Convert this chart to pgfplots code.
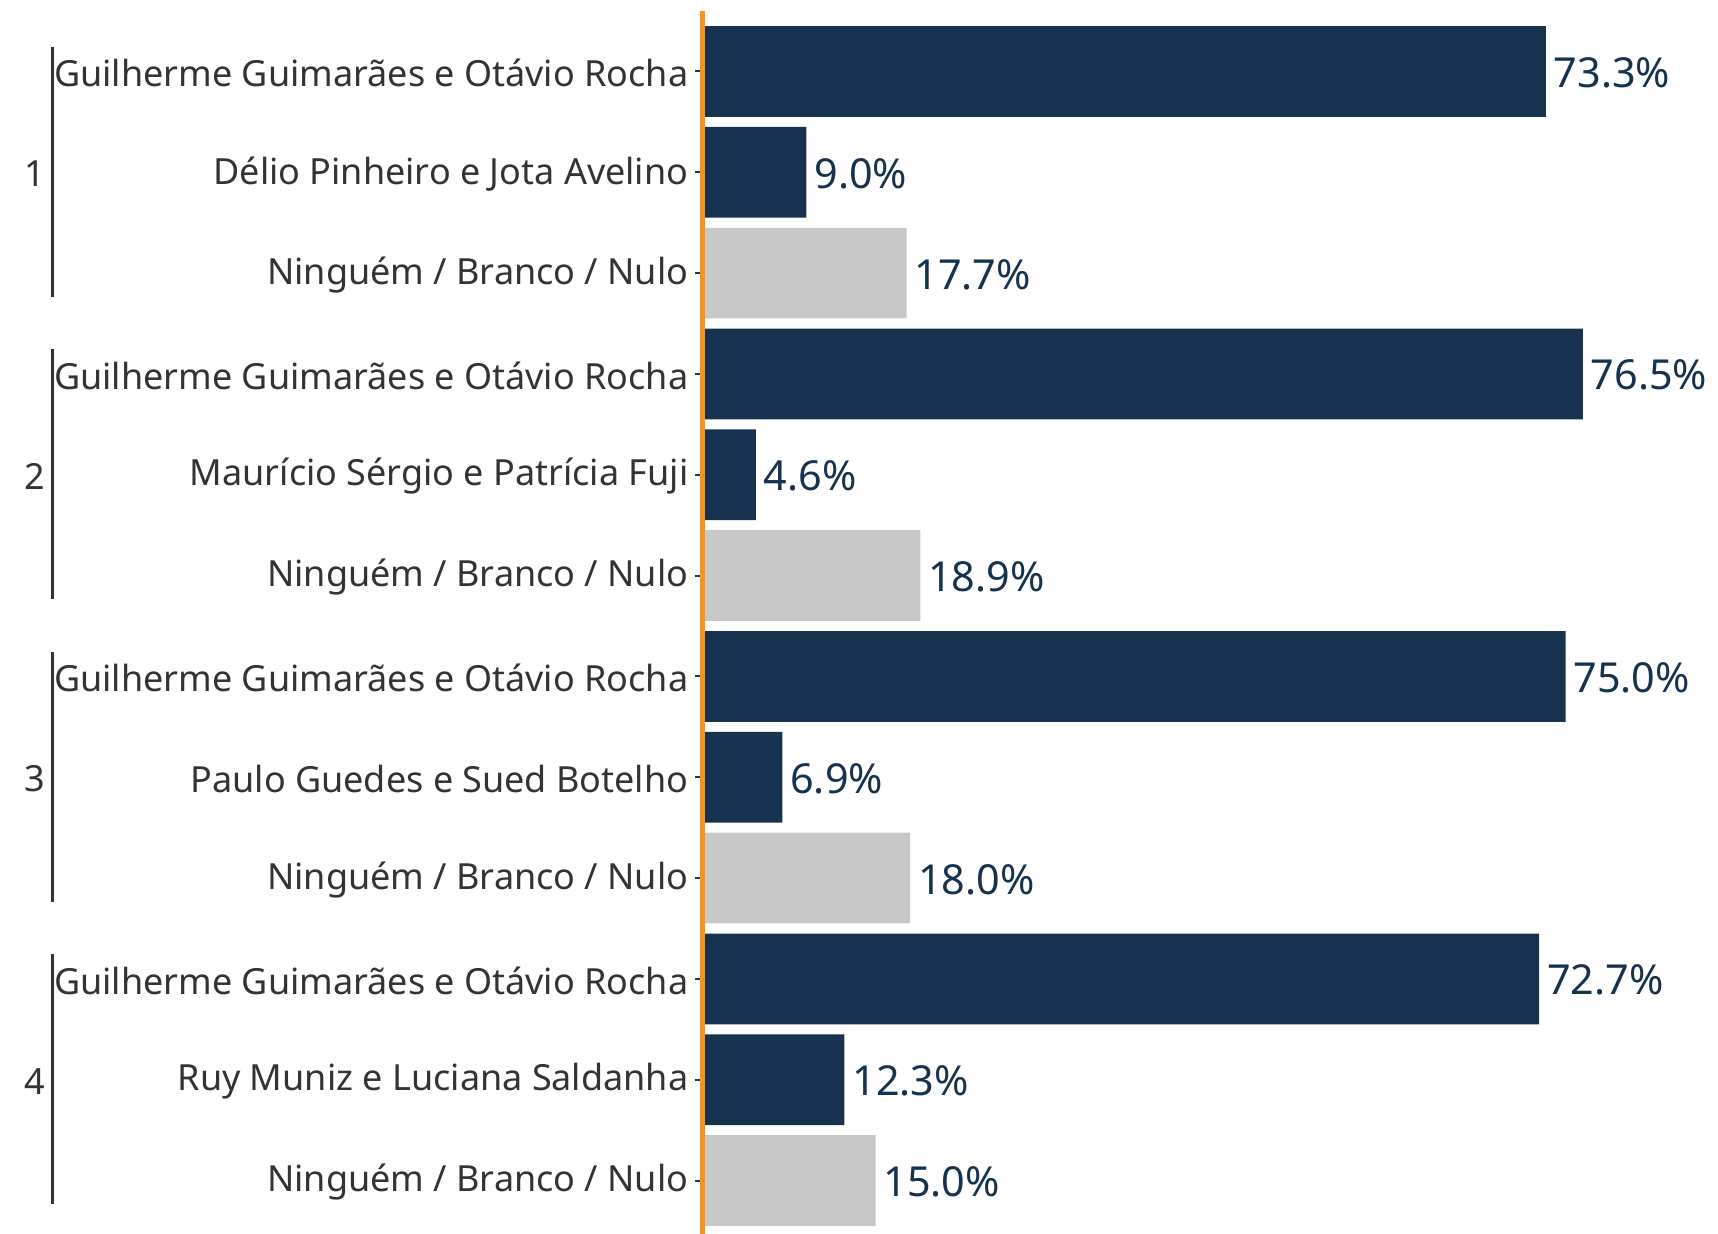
\documentclass[border=0pt]{standalone}
\usepackage{fontspec}
\setmainfont{Noto Sans}
\usepackage{pgfplots}
\pgfplotsset{compat=1.18}
\definecolor{navy}{HTML}{16324F}
\definecolor{lightgrey}{HTML}{C8C8C8}
\definecolor{vline}{HTML}{F7941D}
\definecolor{txt}{HTML}{333333}
\begin{document}
\begin{tikzpicture}
\begin{axis}[
 scale only axis,width=304.5pt,height=366.9pt,
 xmin=0,xmax=88.26,ymin=-0.6,ymax=11.53,y dir=reverse,
 xbar,bar shift=0pt,bar width=0.9,
 axis x line=none,axis y line*=left,axis on top,
 y axis line style={color=vline,line width=1.5pt,-},
 ytick={0,...,11},
 yticklabels={Guilherme Guimarães e Otávio Rocha,Délio Pinheiro e Jota Avelino,Ninguém / Branco / Nulo,
  Guilherme Guimarães e Otávio Rocha,Maurício Sérgio e Patrícia Fuji,Ninguém / Branco / Nulo,
  Guilherme Guimarães e Otávio Rocha,Paulo Guedes e Sued Botelho,Ninguém / Branco / Nulo,
  Guilherme Guimarães e Otávio Rocha,Ruy Muniz e Luciana Saldanha,Ninguém / Branco / Nulo},
 y tick label style={font=\fontsize{10.8}{12}\selectfont,text=txt,inner sep=0pt,xshift=-1.8pt,yshift=-0.5pt},
 tick align=outside,major tick length=2.4pt,
 ytick style={color=txt,line width=0.6pt},
 point meta=x,
 nodes near coords={\pgfmathprintnumber[fixed,fixed zerofill,precision=1]{\pgfplotspointmeta}\%},
 nodes near coords style={anchor=west,inner sep=0pt,xshift=2.2pt,yshift=-0.4pt,text=navy,font=\fontsize{12.4}{14}\selectfont},
 /pgf/number format/assume math mode=true,
 clip=false,
]
\addplot[fill=navy,draw=none] coordinates {
 (73.3,0) (9.0,1) (76.5,3) (4.6,4) (75.0,6) (6.9,7) (72.7,9) (12.3,10)};
\addplot[fill=lightgrey,draw=none] coordinates {
 (17.7,2) (18.9,5) (18.0,8) (15.0,11)};
\foreach \g/\c in {1/1,2/4,3/7,4/10}{
 \edef\tmp{\noexpand\draw[txt,line width=0.9pt] (axis cs:-56.6,\c-1.243) -- (axis cs:-56.6,\c+1.237);
  \noexpand\node[anchor=east,inner sep=0pt,yshift=-0.5pt,text=txt,font=\noexpand\fontsize{10.8}{12}\noexpand\selectfont] at (axis cs:-57.15,\c) {\g};}
 \tmp
}
\coordinate (tl) at (axis cs:-61.13,-0.709);
\coordinate (br) at (axis cs:88.26,11.53);
\end{axis}
\pgfresetboundingbox
\path[use as bounding box] (tl) rectangle (br);
\end{tikzpicture}
\end{document}
